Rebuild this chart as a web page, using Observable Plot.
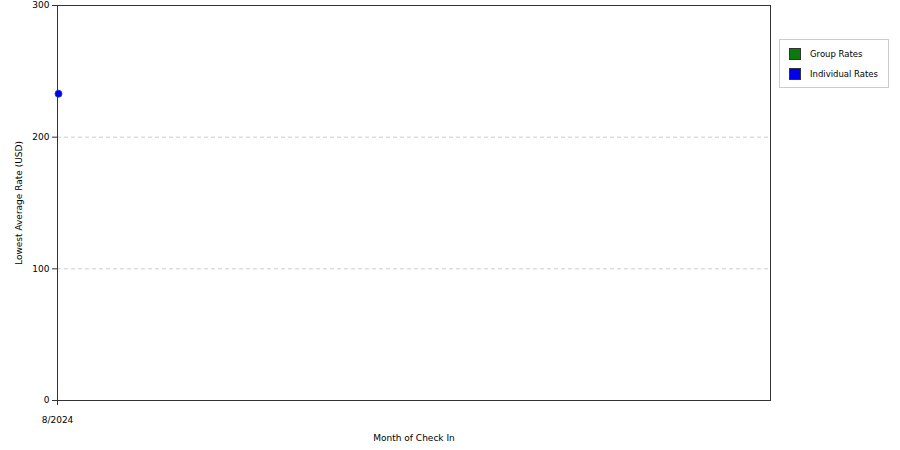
<!DOCTYPE html>
<html>
<head>
<meta charset="utf-8">
<script src="https://cdn.jsdelivr.net/npm/d3@7"></script>
<script src="https://cdn.jsdelivr.net/npm/@observablehq/plot@0.6"></script>
<style>
  html, body { margin: 0; padding: 0; background: #fff; }
  #wrap { position: relative; width: 900px; height: 450px; font-family: "DejaVu Sans", sans-serif; }
  #legend { position: absolute; left: 779px; top: 39px; width: 108px; height: 47px; border: 1px solid #ccc; background: #fff; font-size: 8.5px; color: #000; }
  .item { position: absolute; left: 9px; display: flex; align-items: center; }
  .sw { width: 12px; height: 12px; border: 1px solid #333; box-sizing: border-box; margin-right: 9px; }
</style>
</head>
<body>
<div id="wrap"><div id="chart"></div><div id="legend"></div></div>
<script>
const months = ["8/2024"];
const seriesNames = ["Group Rates", "Individual Rates"];
const seriesColors = ["#0a7a0a", "#0000ee"];
const groupRates = [null];
const individualRates = [233];
const yTicks = [0, 100, 200, 300];
const gridTicks = [100, 200];

const data = [];
months.forEach((m, i) => {
  if (groupRates[i] != null) data.push({i, series: seriesNames[0], value: groupRates[i]});
  if (individualRates[i] != null) data.push({i, series: seriesNames[1], value: individualRates[i]});
});

const chart = Plot.plot({
  width: 900,
  height: 450,
  marginLeft: 57,
  marginRight: 130,
  marginTop: 5,
  marginBottom: 50,
  style: {fontFamily: "DejaVu Sans, sans-serif", fontSize: "9px", color: "#000", background: "#fff"},
  x: {type: "linear", domain: [0, 1]},
  y: {domain: [0, 300]},
  color: {domain: seriesNames, range: seriesColors},
  marks: [
    Plot.gridY(gridTicks, {stroke: "#ccc", strokeOpacity: 1, strokeDasharray: "4,3"}),
    Plot.frame({stroke: "#333"}),
    Plot.axisY(yTicks, {tickSize: 5, tickPadding: 3, stroke: "#333", label: "Lowest Average Rate (USD)", labelAnchor: "center", labelArrow: "none", labelOffset: 42}),
    Plot.axisX([0], {tickSize: 5, tickPadding: 11, stroke: "#333", tickFormat: i => months[i], label: "Month of Check In", labelAnchor: "center", labelArrow: "none", labelOffset: 40}),
    Plot.dot(data, {x: "i", y: "value", fill: "series", stroke: "#1a3fb0", strokeWidth: 0.8, r: 3.5, dx: 1})
  ]
});
document.getElementById("chart").appendChild(chart);

const legend = document.getElementById("legend");
seriesNames.forEach((name, k) => {
  const it = document.createElement("div");
  it.className = "item";
  it.style.top = (8 + k * 20) + "px";
  const sw = document.createElement("div");
  sw.className = "sw";
  sw.style.background = seriesColors[k];
  const t = document.createElement("span");
  t.textContent = name;
  it.appendChild(sw); it.appendChild(t);
  legend.appendChild(it);
});
</script>
</body>
</html>
